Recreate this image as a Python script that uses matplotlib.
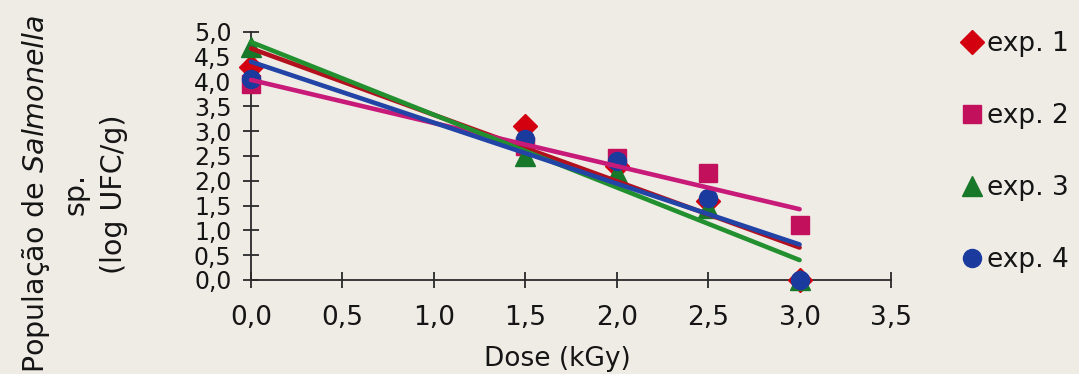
import matplotlib.pyplot as plt
import numpy as np
from matplotlib.lines import Line2D

# dados
dose = [0.0, 1.5, 2.0, 2.5, 3.0]
exp1 = [4.3, 3.1, 2.3, 1.6, 0.0]
exp2 = [3.95, 2.7, 2.45, 2.15, 1.1]
exp3 = [4.7, 2.5, 2.15, 1.45, 0.0]
exp4 = [4.05, 2.85, 2.4, 1.65, 0.0]
labels = ['exp. 1', 'exp. 2', 'exp. 3', 'exp. 4']
xticks = [0.0, 0.5, 1.0, 1.5, 2.0, 2.5, 3.0, 3.5]
yticks = [0.0, 0.5, 1.0, 1.5, 2.0, 2.5, 3.0, 3.5, 4.0, 4.5, 5.0]

series = [exp1, exp2, exp3, exp4]
markers = ['D', 's', '^', 'o']
msizes = [12, 13, 15, 13]
mcolors = ['#d3000f', '#c3105c', '#18782a', '#1b3a9e']
lcolors = ['#b3101e', '#c81a78', '#23902f', '#2244a6']

bg = '#efece6'
plt.rcParams['font.family'] = ['DejaVu Sans']
fig = plt.figure(figsize=(10.79, 3.74), dpi=100, facecolor=bg)
ax = fig.add_axes([251/1079, 1-280/374, 640/1079, 248/374])
ax.set_facecolor(bg)

x = np.array(dose)
handles = []
for ys, m, ms, mc, lc, lab in zip(series, markers, msizes, mcolors, lcolors, labels):
  ax.plot(dose, ys, linestyle='none', marker=m, ms=ms, color=mc, mec=mc, zorder=3, clip_on=False)
  k, b = np.polyfit(x, np.array(ys), 1)
  xs = np.array([dose[0], dose[-1]])
  ax.plot(xs, k*xs+b, color=lc, lw=3.3, solid_capstyle='round', zorder=4, clip_on=False)
  handles.append(Line2D([], [], linestyle='none', marker=m, ms=ms, color=mc, mec=mc))

ax.set_xlim(0, 3.5)
ax.set_ylim(0, 5)
ax.set_xticks(xticks)
ax.set_yticks(yticks)
ax.set_xticklabels([('%.1f' % v).replace('.', ',') for v in xticks], fontsize=19)
ax.set_yticklabels([('%.1f' % v).replace('.', ',') for v in yticks], fontsize=17)
for s in ['top', 'right']:
  ax.spines[s].set_visible(False)
for s in ['left', 'bottom']:
  ax.spines[s].set_color('#2a2a2a')
  ax.spines[s].set_linewidth(1.3)
ax.tick_params(axis='both', direction='inout', length=12, width=1.3, color='#2a2a2a', labelcolor='#151515')
ax.tick_params(axis='x', pad=12)
ax.tick_params(axis='y', pad=8)

fig.text(557/1079, 1-366/374, 'Dose (kGy)', fontsize=19, ha='center', va='baseline', color='#151515')
fig.text(74/1079, 1-194/374, 'População de $\\it{Salmonella}$\nsp.\n(log UFC/g)', fontsize=20.5,
         rotation=90, ha='center', va='center', multialignment='center', linespacing=1.45, color='#151515')

fig.legend(handles=handles, labels=labels, loc='upper left', bbox_to_anchor=(961/1079, 1-31/374),
           frameon=False, fontsize=19, handlelength=0.8, handletextpad=0.2, labelspacing=1.74,
           borderpad=0, borderaxespad=0, labelcolor='#151515')

fig.savefig('out.png', dpi=100, facecolor=bg)
